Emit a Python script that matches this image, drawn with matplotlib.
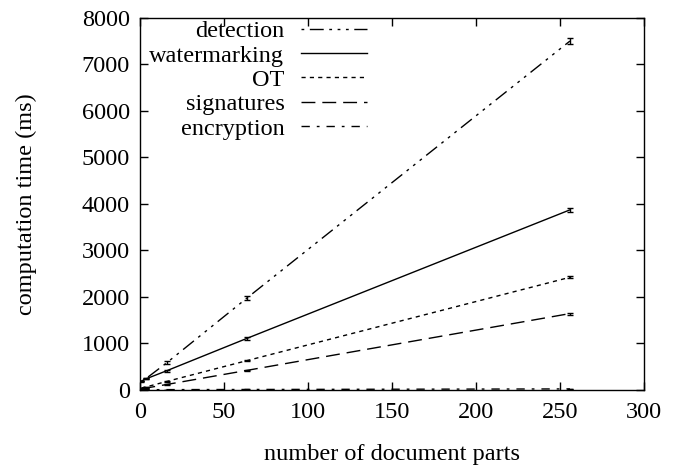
import numpy as np
import matplotlib
matplotlib.use('Agg')
import matplotlib.pyplot as plt

parts = [1, 4, 16, 64, 256]
detection = [170, 250, 580, 1980, 7500]
watermarking = [190, 240, 410, 1110, 3870]
ot = [40, 65, 180, 630, 2420]
signatures = [20, 40, 115, 420, 1640]
encryption = [2, 3, 5, 8, 20]

detection_err = [10, 15, 30, 40, 70]
watermarking_err = [10, 10, 20, 30, 40]
ot_err = [5, 5, 10, 15, 20]
signatures_err = [5, 5, 10, 15, 20]
encryption_err = [1, 1, 2, 3, 5]

plt.rcParams['font.family'] = ['Liberation Serif', 'DejaVu Serif']
plt.rcParams['font.size'] = 17.5

fig = plt.figure(figsize=(6.85, 4.68), dpi=100)
ax = fig.add_axes([0.204, 0.167, 0.736, 0.795])

series = [
    ('detection', detection, detection_err, (0, (2, 4, 10, 4, 2, 4, 2, 4))),
    ('watermarking', watermarking, watermarking_err, '-'),
    ('OT', ot, ot_err, (0, (3, 3))),
    ('signatures', signatures, signatures_err, (0, (10, 5))),
    ('encryption', encryption, encryption_err, (0, (6, 5, 2, 5))),
]

for name, vals, err, ls in series:
    ax.plot(parts, vals, color='black', linestyle=ls, linewidth=1, label=name)
    ax.errorbar(parts, vals, yerr=err, fmt='none', ecolor='black',
                elinewidth=1, capsize=2.5, capthick=1)

ax.set_xlim(0, 300)
ax.set_ylim(0, 8000)
ax.set_xticks(np.arange(0, 301, 50))
ax.set_yticks(np.arange(0, 8001, 1000))
ax.tick_params(direction='in', top=True, right=True, length=6, width=1)
ax.tick_params(axis='x', pad=9)
ax.tick_params(axis='y', pad=7)
for s in ax.spines.values():
    s.set_linewidth(1)

ax.set_xlabel('number of document parts', labelpad=15)
ax.set_ylabel('computation time (ms)', labelpad=32)

ax.legend(loc='upper left', bbox_to_anchor=(0.0, 1.02), frameon=False,
          markerfirst=False, handlelength=2.7, handletextpad=0.7,
          labelspacing=0.1, borderaxespad=0)

fig.savefig('out.png', dpi=100)
